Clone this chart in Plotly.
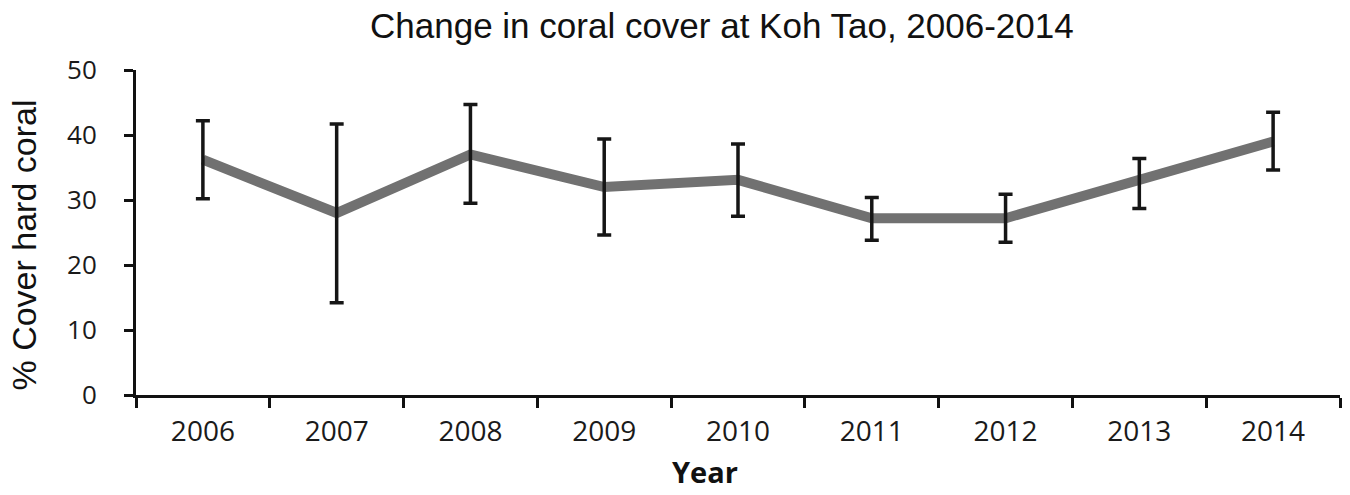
import plotly.graph_objects as go

# Survey years and mean hard coral cover (%) with error-bar limits
years = ["2006", "2007", "2008", "2009", "2010", "2011", "2012", "2013", "2014"]
cover_mean = [36.2, 28.0, 37.0, 32.0, 33.1, 27.2, 27.2, 33.2, 39.0]
cover_upper = [42.2, 41.7, 44.7, 39.4, 38.6, 30.4, 30.9, 36.4, 43.5]
cover_lower = [30.2, 14.2, 29.5, 24.6, 27.5, 23.8, 23.5, 28.7, 34.6]

y_ticks = [0, 10, 20, 30, 40, 50]

err_plus = [u - m for u, m in zip(cover_upper, cover_mean)]
err_minus = [m - l for m, l in zip(cover_mean, cover_lower)]

fig = go.Figure()

# Thick grey trend line
fig.add_trace(go.Scatter(
    x=years, y=cover_mean, mode="lines",
    line=dict(color="#717171", width=10),
    hoverinfo="skip", showlegend=False,
))

# Error bars drawn on top of the line
fig.add_trace(go.Scatter(
    x=years, y=cover_mean, mode="markers",
    marker=dict(size=1, color="rgba(0,0,0,0)"),
    error_y=dict(type="data", symmetric=False, array=err_plus,
                 arrayminus=err_minus, color="#161616",
                 thickness=3.5, width=7),
    showlegend=False,
))

label_font = "Open Sans, Noto Sans, sans-serif"
title_font = "Liberation Sans, Arial, sans-serif"

fig.update_layout(
    width=1350, height=495,
    margin=dict(l=136, r=10, t=70, b=100),
    paper_bgcolor="white", plot_bgcolor="white",
    showlegend=False,
    xaxis=dict(
        type="category", range=[-0.5, 8.5],
        tickson="boundaries", ticks="outside", ticklen=10,
        tickwidth=3, tickcolor="#111",
        showline=True, linecolor="#111", linewidth=3,
        showgrid=False, zeroline=False,
        tickfont=dict(family=label_font, size=28, color="#1a1a1a"),
        ticklabelstandoff=9,
    ),
    yaxis=dict(
        range=[0, 50], tickvals=y_ticks,
        ticks="outside", ticklen=9, tickwidth=3, tickcolor="#111",
        showline=True, linecolor="#111", linewidth=3,
        showgrid=False, zeroline=False,
        tickfont=dict(family=label_font, size=26, color="#1a1a1a"),
        ticklabelstandoff=22,
    ),
    annotations=[
        dict(text="Change in coral cover at Koh Tao, 2006-2014",
             xref="paper", yref="paper", x=0.487, y=1.138,
             xanchor="center", yanchor="middle", showarrow=False,
             font=dict(family=title_font, size=35, color="#111")),
        dict(text="% Cover hard coral",
             xref="paper", yref="paper", x=-0.0926, y=0.4615,
             xanchor="center", yanchor="middle", textangle=-90,
             showarrow=False,
             font=dict(family=title_font, size=34, color="#111")),
        dict(text="<b>Year</b>",
             xref="paper", yref="paper", x=0.473, y=-0.3,
             xanchor="center", yanchor="bottom", showarrow=False,
             font=dict(family=label_font, size=29, color="#111")),
    ],
)

fig.write_html("out.html")
